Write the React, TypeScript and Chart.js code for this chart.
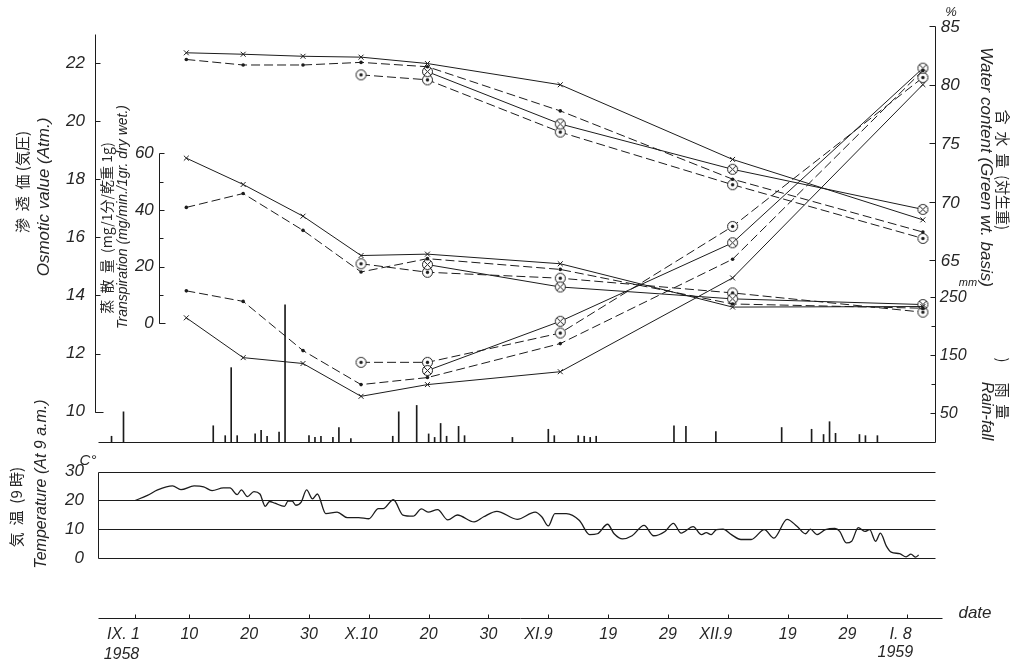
import React, { useEffect, useRef } from "react";
import { Chart, registerables } from "chart.js";

Chart.register(...registerables);

const INK = "#1c1c1c";
const TEXT = "#262626";
const W = 1025;
const H = 671;

// ---------------- data ----------------
// x values: days after 1 Sep 1958
const sampleDays = [8.5, 18, 28, 37.7, 48.8, 71, 99.8, 131.6];

// Osmotic value (Atm.)
const osmoticCross = [22.35, 22.3, 22.23, 22.2, 21.98, 21.25, 18.68, 16.6];
const osmoticDot = [22.12, 21.93, 21.93, 22.02, 21.87, 20.35, 18.0, 16.18];
const osmoticOtimes = [null, null, null, null, 21.7, 19.9, 18.34, 16.96];
const osmoticOdot = [null, null, null, 21.59, 21.42, 19.62, 17.81, 15.96];

// Transpiration (mg/min./1gr. dry wt.)
const transCross = [58.3, 49.0, 37.8, 23.9, 24.4, 21.0, 5.7, 5.9];
const transDot = [40.9, 45.8, 32.8, 18.1, 22.8, 19.0, 6.8, 5.3];
const transOtimes = [null, null, null, null, 20.7, 12.8, 8.6, 6.6];
const transOdot = [null, null, null, 21.0, 18.0, 15.9, 10.7, 3.9];

// Water content (% green wt.)
const waterCross = [60.1, 56.7, 56.2, 53.4, 54.4, 55.5, 63.5, 80.0];
const waterDot = [62.4, 61.5, 57.3, 54.4, 55.0, 57.9, 65.1, 81.2];
const waterOtimes = [null, null, null, null, 55.6, 59.8, 66.5, 81.4];
const waterOdot = [null, null, null, 56.3, 56.3, 58.8, 67.9, 80.6];

// Rain-fall (mm)
const rainDays = [-4, -2, 13, 15, 16, 17, 20, 21, 22, 24, 25, 29, 30, 31, 33, 34, 36, 43, 44, 47, 49, 50, 51, 52, 54, 55, 63, 69, 70, 74, 75, 76, 77, 90, 92, 97, 108, 113, 115, 116, 117, 121, 122, 124];
const rainMm = [10, 52, 28, 11, 128, 11, 14, 20, 10, 17, 236, 11, 8, 10, 8, 25, 6, 10, 52, 63, 14, 8, 32, 10, 27, 11, 8, 22, 11, 11, 10, 8, 10, 28, 27, 18, 25, 22, 13, 35, 15, 13, 11, 11];

// Temperature at 9 a.m. (°C)
const tempDays = [0, 2.0, 3.7, 6.2, 7.6, 9.8, 11.4, 12.8, 14.7, 15.8, 17.0, 17.7, 18.7, 19.8, 20.8, 21.7, 22.4, 23.3, 24.9, 25.5, 26.2, 26.8, 27.7, 28.6, 29.6, 30.4, 31.8, 33.7, 35.4, 37.3, 39.0, 40.6, 41.4, 43.1, 44.7, 46.4, 47.8, 48.9, 50.5, 52.2, 53.8, 56.6, 58.2, 60.4, 63.8, 66.8, 67.9, 69.0, 70.1, 72.0, 74.2, 75.9, 77.2, 78.9, 80.0, 81.4, 83.0, 85.0, 86.6, 88.5, 89.9, 91.2, 93.2, 94.6, 95.4, 96.2, 97.1, 98.2, 99.6, 101.2, 102.9, 105.1, 106.7, 108.9, 110.6, 112.0, 112.8, 113.9, 115.3, 116.9, 117.7, 118.8, 119.7, 120.8, 121.9, 122.7, 123.7, 124.5, 125.5, 126.3, 127.7, 128.8, 129.6, 130.4, 130.9];
const tempValues = [20.0, 21.7, 23.6, 25.0, 23.7, 25.0, 24.7, 23.4, 24.3, 24.3, 22.0, 23.6, 21.3, 23.0, 22.2, 17.9, 19.6, 19.0, 17.9, 19.7, 19.7, 18.3, 19.4, 23.6, 20.5, 22.2, 15.4, 15.9, 14.0, 14.0, 13.6, 17.1, 17.1, 20.2, 14.9, 14.5, 17.0, 15.9, 16.8, 13.2, 14.9, 12.5, 14.3, 16.2, 13.4, 15.9, 14.3, 11.1, 15.4, 15.4, 13.0, 8.1, 8.4, 11.7, 8.4, 6.6, 7.7, 11.3, 7.7, 9.2, 12.0, 8.6, 10.9, 8.1, 8.8, 8.1, 9.8, 10.0, 8.1, 6.4, 6.4, 9.8, 6.9, 13.4, 10.9, 8.4, 10.0, 8.1, 9.8, 10.3, 9.2, 5.2, 5.8, 10.5, 9.2, 9.8, 5.8, 8.6, 4.1, 2.0, 1.5, 0.4, 1.3, 0.3, 1.0];

// ticks
const dateTickDays = [0, 9, 19, 29, 39, 49, 59, 69, 79, 89, 99, 109, 119, 129];
const dateTickLabels = ["IX. 1", "10", "20", "30", "X.10", "20", "30", "XI.9", "19", "29", "XII.9", "19", "29", "I. 8"];
const osmoticTicks = [10, 12, 14, 16, 18, 20, 22];
const transTicks = [0, 20, 40, 60];
const transMinorTicks = [10, 30, 50];
const waterTicks = [65, 70, 75, 80, 85];
const rainTicks = [50, 150, 250];
const rainMinorTicks = [100, 200];
const tempTicks = [0, 10, 20, 30];

// ---------------- layout ----------------
function fitX(v1: number, p1: number, v2: number, p2: number, size: number) {
  const k = (p2 - p1) / (v2 - v1);
  const min = v1 - p1 / k;
  return { min, max: min + size / k };
}
function fitY(v1: number, p1: number, v2: number, p2: number, size: number) {
  const k = (p2 - p1) / (v1 - v2);
  const max = v1 + p1 / k;
  return { min: max - size / k, max };
}
const xRange = fitX(0, 131, 129, 912, W);
const osmRange = fitY(22, 58, 10, 413, H);
const transRange = fitY(60, 150, 0, 323, H);
const waterRange = fitY(80, 80, 65, 259, H);
const rainRange = fitY(250, 296, 0, 444, H);
const tempRange = fitY(30, 474, 0, 562, H);

const AXIS_OSM_DAY = -6.77;
const OSM_TOP = 23.0;
const AXIS_TRANS_DAY = 3.9;
const AXIS_RIGHT_DAY = 133.6;
const PANEL_LEFT_DAY = -6.28;
const DATE_END_DAY = 134.8;
const DATE_AXIS_T = -20.8;

const NUM = 'italic 17px "Liberation Sans"';
const NUM_S = 'italic 16px "Liberation Sans"';
const DATEF = 'italic 16px "Liberation Sans"';
const JP = '15px "Noto Sans CJK JP"';

function pts(days: number[], vals: (number | null)[]) {
  const out: { x: number; y: number }[] = [];
  days.forEach((d, i) => {
    const v = vals[i];
    if (v !== null && v !== undefined) out.push({ x: d, y: v });
  });
  return out;
}

function makeMarker(kind: "otimes" | "odot") {
  const c = document.createElement("canvas");
  c.width = 13;
  c.height = 13;
  const g = c.getContext("2d")!;
  g.fillStyle = "#fff";
  g.beginPath();
  g.arc(6.5, 6.5, 5, 0, Math.PI * 2);
  g.fill();
  g.strokeStyle = INK;
  g.lineWidth = 1;
  g.beginPath();
  g.arc(6.5, 6.5, 5, 0, Math.PI * 2);
  g.stroke();
  if (kind === "otimes") {
    g.beginPath();
    g.moveTo(3.2, 3.2);
    g.lineTo(9.8, 9.8);
    g.moveTo(9.8, 3.2);
    g.lineTo(3.2, 9.8);
    g.stroke();
  } else {
    g.fillStyle = INK;
    g.beginPath();
    g.arc(6.5, 6.5, 1.7, 0, Math.PI * 2);
    g.fill();
  }
  return c;
}

function txt(ctx: CanvasRenderingContext2D, s: string, x: number, y: number, font: string, align: CanvasTextAlign = "center", rot = 0) {
  ctx.save();
  ctx.translate(x, y);
  if (rot) ctx.rotate(rot);
  ctx.font = font;
  ctx.textAlign = align;
  ctx.textBaseline = "middle";
  ctx.fillStyle = TEXT;
  ctx.fillText(s, 0, 0);
  ctx.restore();
}

const paperPlugin = {
  id: "paper",
  beforeDatasetsDraw(chart: any) {
    const { ctx, scales: s } = chart;
    const px = (d: number) => s.x.getPixelForValue(d);
    ctx.save();
    ctx.strokeStyle = INK;
    ctx.fillStyle = INK;
    ctx.lineWidth = 1;
    const seg = (x1: number, y1: number, x2: number, y2: number) => {
      ctx.beginPath();
      ctx.moveTo(Math.round(x1) + 0.5, Math.round(y1) + 0.5);
      ctx.lineTo(Math.round(x2) + 0.5, Math.round(y2) + 0.5);
      ctx.stroke();
    };

    // osmotic axis
    const xo = px(AXIS_OSM_DAY);
    const yo = (v: number) => s.yOsm.getPixelForValue(v);
    seg(xo, yo(OSM_TOP), xo, yo(10));
    seg(xo, yo(10), xo + 8, yo(10));
    osmoticTicks.forEach((v) => {
      seg(xo, yo(v), xo + 5, yo(v));
      txt(ctx, String(v), xo - 10, yo(v), NUM, "right");
    });

    // transpiration axis
    const xt = px(AXIS_TRANS_DAY);
    const yt = (v: number) => s.yTrans.getPixelForValue(v);
    seg(xt, yt(60), xt, yt(0));
    seg(xt, yt(0), xt + 6, yt(0));
    transMinorTicks.forEach((v) => seg(xt, yt(v), xt + 4, yt(v)));
    transTicks.forEach((v) => {
      seg(xt, yt(v), xt + 5, yt(v));
      txt(ctx, String(v), xt - 5, yt(v), NUM, "right");
    });

    // right axis: water content + rain-fall
    const xr = px(AXIS_RIGHT_DAY);
    const yw = (v: number) => s.yWater.getPixelForValue(v);
    const yr = (v: number) => s.yRain.getPixelForValue(v);
    seg(xr, yw(85), xr, yr(0));
    waterTicks.forEach((v) => {
      seg(xr - 6, yw(v), xr, yw(v));
      txt(ctx, String(v), xr + 6, yw(v) + 1, NUM, "left");
    });
    rainMinorTicks.forEach((v) => seg(xr - 4, yr(v), xr, yr(v)));
    rainTicks.forEach((v) => {
      seg(xr - 5, yr(v), xr, yr(v));
      txt(ctx, String(v), xr + 5, yr(v) + 1, NUM_S, "left");
    });
    const xl = px(PANEL_LEFT_DAY);
    seg(xl, yr(0), xr, yr(0));

    // temperature panel
    const yc = (v: number) => s.yTemp.getPixelForValue(v);
    tempTicks.forEach((v) => {
      seg(xl, yc(v), xr, yc(v));
      txt(ctx, String(v), xl - 14, yc(v), NUM, "right");
    });
    seg(xl, yc(30), xl, yc(0));

    // date axis
    const yd = yc(DATE_AXIS_T);
    seg(xl, yd, px(DATE_END_DAY), yd);
    ctx.font = DATEF;
    dateTickDays.forEach((d, i) => {
      seg(px(d), yd, px(d), yd - 4);
      const lab = dateTickLabels[i];
      const numPart = lab.includes(".") ? lab.split(".")[1].trim() : lab;
      const w = ctx.measureText(numPart).width;
      txt(ctx, lab, px(d) + w / 2, yd + 17, DATEF, "right");
    });
    txt(ctx, "1958", px(0) - 14, yd + 37, DATEF, "center");
    txt(ctx, "1959", px(129) - 12, yd + 35, DATEF, "center");
    txt(ctx, "date", 975, yd - 5, 'italic 17px "Liberation Sans"', "center");

    // units
    txt(ctx, "%", 951, 12, 'italic 13px "Liberation Sans"', "center");
    txt(ctx, "mm", 968, 283, 'italic 11px "Liberation Sans"', "center");
    txt(ctx, "C°", 88, 461, 'italic 15px "Liberation Sans"', "center");

    // axis titles (rotated)
    const up = -Math.PI / 2;
    const down = Math.PI / 2;
    txt(ctx, "滲  透  価 (気圧)", 22, 182, JP, "center", up);
    txt(ctx, "Osmotic value (Atm.)", 44, 197, 'italic 17px "Liberation Sans"', "center", up);
    txt(ctx, "蒸  散  量  (mg/1分/乾重 1g)", 107, 228, '14px "Noto Sans CJK JP"', "center", up);
    txt(ctx, "Transpiration (mg/min./1gr. dry wet.)", 123, 217, 'italic 14px "Liberation Sans"', "center", up);
    txt(ctx, "含  水  量  (対生重)", 1003, 170, JP, "center", down);
    txt(ctx, "Water content (Green wt. basis)", 986, 167, 'italic 17px "Liberation Sans"', "center", down);
    txt(ctx, ")", 1003, 360, JP, "center", down);
    txt(ctx, "雨  量", 1003, 401, JP, "center", down);
    txt(ctx, "Rain-fall", 986, 411, 'italic 16px "Liberation Sans"', "center", down);
    txt(ctx, "気  温  (9 時)", 16, 507, JP, "center", up);
    txt(ctx, "Temperature (At 9 a.m.)", 42, 484, 'italic 16px "Liberation Sans"', "center", up);

    ctx.restore();
  },
};

export default function App() {
  const ref = useRef<HTMLCanvasElement | null>(null);

  useEffect(() => {
    const canvas = ref.current;
    if (!canvas) return;
    const otimes = makeMarker("otimes");
    const odot = makeMarker("odot");

    const crossStyle = (yAxisID: string, vals: (number | null)[]) => ({
      type: "line" as const,
      data: pts(sampleDays, vals),
      yAxisID,
      borderColor: INK,
      borderWidth: 1,
      pointStyle: "crossRot" as const,
      pointRadius: 3.5,
      pointBorderWidth: 1,
      pointBorderColor: INK,
      pointBackgroundColor: INK,
    });
    const dotStyle = (yAxisID: string, vals: (number | null)[]) => ({
      type: "line" as const,
      data: pts(sampleDays, vals),
      yAxisID,
      borderColor: INK,
      borderWidth: 1,
      borderDash: [9, 4],
      pointStyle: "circle" as const,
      pointRadius: 1.8,
      pointBorderWidth: 0,
      pointBackgroundColor: INK,
    });
    const otimesStyle = (yAxisID: string, vals: (number | null)[]) => ({
      type: "line" as const,
      data: pts(sampleDays, vals),
      yAxisID,
      borderColor: INK,
      borderWidth: 1,
      pointStyle: otimes,
      pointRadius: 5,
    });
    const odotStyle = (yAxisID: string, vals: (number | null)[]) => ({
      type: "line" as const,
      data: pts(sampleDays, vals),
      yAxisID,
      borderColor: INK,
      borderWidth: 1,
      borderDash: [9, 4],
      pointStyle: odot,
      pointRadius: 5,
    });

    const chart = new Chart(canvas, {
      type: "line",
      data: {
        datasets: [
          {
            type: "bar",
            label: "Rain-fall",
            data: rainDays.map((d, i) => ({ x: d, y: rainMm[i] })),
            xAxisID: "x",
            yAxisID: "yRain",
            backgroundColor: INK,
            barThickness: 1,
            grouped: false,
          } as any,
          {
            type: "line",
            label: "Temperature",
            data: tempDays.map((d, i) => ({ x: d, y: tempValues[i] })),
            yAxisID: "yTemp",
            borderColor: INK,
            borderWidth: 1.3,
            pointRadius: 0,
            cubicInterpolationMode: "monotone",
          } as any,
          crossStyle("yOsm", osmoticCross),
          dotStyle("yOsm", osmoticDot),
          otimesStyle("yOsm", osmoticOtimes),
          odotStyle("yOsm", osmoticOdot),
          crossStyle("yTrans", transCross),
          dotStyle("yTrans", transDot),
          otimesStyle("yTrans", transOtimes),
          odotStyle("yTrans", transOdot),
          crossStyle("yWater", waterCross),
          dotStyle("yWater", waterDot),
          otimesStyle("yWater", waterOtimes),
          odotStyle("yWater", waterOdot),
        ] as any,
      },
      options: {
        responsive: false,
        animation: false,
        devicePixelRatio: 1,
        events: [],
        layout: { padding: 0 },
        plugins: { legend: { display: false }, tooltip: { enabled: false } },
        scales: {
          x: { type: "linear", display: false, min: xRange.min, max: xRange.max, offset: false },
          yOsm: { type: "linear", display: false, min: osmRange.min, max: osmRange.max },
          yTrans: { type: "linear", display: false, min: transRange.min, max: transRange.max },
          yWater: { type: "linear", display: false, min: waterRange.min, max: waterRange.max },
          yRain: { type: "linear", display: false, min: rainRange.min, max: rainRange.max },
          yTemp: { type: "linear", display: false, min: tempRange.min, max: tempRange.max },
        },
      },
      plugins: [paperPlugin],
    });
    return () => chart.destroy();
  }, []);

  return (
    <div style={{ position: "fixed", left: 0, top: 0, width: W, height: H, background: "#fff" }}>
      <canvas ref={ref} width={W} height={H} style={{ display: "block" }} />
    </div>
  );
}
